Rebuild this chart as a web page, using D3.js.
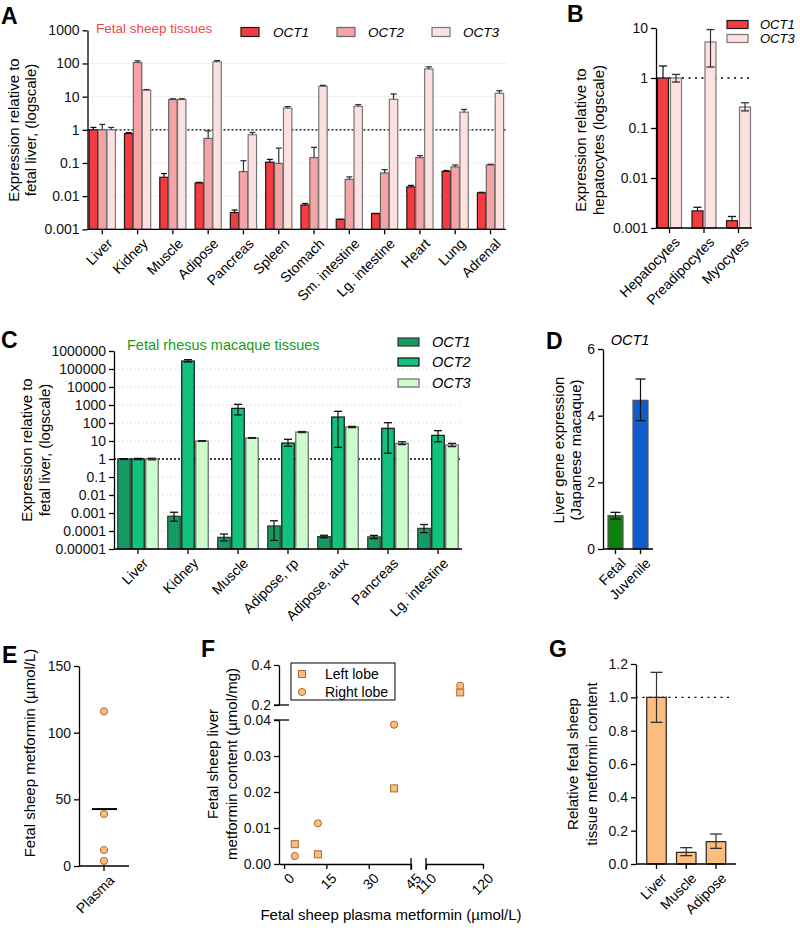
<!DOCTYPE html>
<html>
<head>
<meta charset="utf-8">
<script src="https://cdn.jsdelivr.net/npm/d3@7"></script>
<style>
  body { margin: 0; background: #fff; }
  svg { font-family: "Liberation Sans", Arial, sans-serif; }
</style>
</head>
<body>
<svg id="fig" width="800" height="928"></svg>
<script>
// ---------------- data ----------------
// A: fetal sheep tissues (relative to fetal liver)
var sheepTissues = ["Liver", "Kidney", "Muscle", "Adipose", "Pancreas", "Spleen", "Stomach", "Sm. intestine", "Lg. intestine", "Heart", "Lung", "Adrenal"];
var sheepOct1   = [1, 0.77, 0.037, 0.025, 0.0032, 0.106, 0.0054, 0.002, 0.003, 0.019, 0.056, 0.0126];
var sheepOct1Hi = [1.18, 0.82, 0.048, 0.026, 0.0038, 0.128, 0.006, 0.002, 0.003, 0.021, 0.059, 0.013];
var sheepOct2   = [1, 107, 8.2, 0.55, 0.055, 0.097, 0.145, 0.032, 0.05, 0.145, 0.076, 0.087];
var sheepOct2Hi = [1.45, 120, 8.6, 0.93, 0.117, 0.28, 0.295, 0.038, 0.063, 0.166, 0.087, 0.091];
var sheepOct3   = [1, 15.7, 8.2, 112, 0.71, 4.5, 20.4, 5.1, 8.3, 68, 3.4, 12.6];
var sheepOct3Hi = [1.18, 16.3, 8.6, 122, 0.83, 5.0, 21.9, 5.75, 12, 79, 4.1, 15.1];
var sheepTicks  = [0.001, 0.01, 0.1, 1, 10, 100, 1000];

// B: isolated fetal sheep cells (relative to hepatocytes)
var cellTypes  = ["Hepatocytes", "Preadipocytes", "Myocytes"];
var cellOct1   = [1, 0.0022, 0.0014];
var cellOct1Hi = [1.74, 0.0026, 0.0017];
var cellOct3   = [1, 5.25, 0.263];
var cellOct3Lo = [0.83, 1.66, 0.22];
var cellOct3Hi = [1.18, 9.3, 0.32];
var cellTicks  = [0.001, 0.01, 0.1, 1, 10];

// C: fetal rhesus macaque tissues
var macTissues = ["Liver", "Kidney", "Muscle", "Adipose, rp", "Adipose, aux", "Pancreas", "Lg. intestine"];
var macOct1   = [1, 0.00066, 0.0000445, 0.00019, 0.000049, 0.000047, 0.00014];
var macOct1Lo = [0.95, 0.00035, 0.000028, 0.00003, 0.000042, 0.000038, 0.000081];
var macOct1Hi = [1.05, 0.0011, 0.000068, 0.00037, 0.000058, 0.000057, 0.00023];
var macOct2   = [1, 277000, 650, 7.7, 215, 50.6, 20.6];
var macOct2Lo = [0.92, 245000, 280, 5.1, 4.4, 2.1, 9];
var macOct2Hi = [1.08, 330000, 1090, 12.4, 445, 104, 37.5];
var macOct3   = [1, 10, 14.7, 31.5, 60, 7.4, 6.0];
var macOct3Lo = [0.9, 9.5, 14, 29.5, 55, 6.3, 4.9];
var macOct3Hi = [1.1, 10.5, 15.5, 33.5, 65, 9.1, 7.4];
var macTicks  = [0.00001, 0.0001, 0.001, 0.01, 0.1, 1, 10, 100, 1000, 10000, 100000, 1000000];

// D: Japanese macaque liver OCT1
var ages        = ["Fetal", "Juvenile"];
var liverOct1   = [1.0, 4.46];
var liverOct1Lo = [0.9, 3.85];
var liverOct1Hi = [1.1, 5.1];
var dTicks = [0, 2, 4, 6];

// E: fetal plasma metformin (umol/L), one value per fetus
var plasmaMet = [3.8, 12, 39, 116];
var eTicks = [0, 50, 100, 150];

// F: liver content (umol/mg) for the same fetuses, same order as plasmaMet
var leftLobeY  = [0.0055, 0.0027, 0.021, 0.263];
var rightLobeY = [0.0022, 0.0113, 0.0387, 0.297];
var fLowTicks  = [0, 0.01, 0.02, 0.03, 0.04];
var fHighTicks = [0.2, 0.4];
var fLeftTicks = [0, 15, 30, 45];
var fRightTicks = [110, 120];

// G: relative tissue metformin content
var gTissues = ["Liver", "Muscle", "Adipose"];
var metContent   = [1.0, 0.07, 0.134];
var metContentLo = [0.85, 0.05, 0.094];
var metContentHi = [1.15, 0.098, 0.18];
var gTicks = [0, 0.2, 0.4, 0.6, 0.8, 1.0, 1.2];

// ---------------- helpers ----------------
var svg = d3.select("#fig");
var FONT = "'Liberation Sans', Arial, sans-serif";
var orange = "#FBBE7E";
var orangeEdge = "#A86C30";

function styleAxis(g) {
  g.attr("font-family", FONT).attr("font-size", 14);
  g.select(".domain").attr("stroke", "#000").attr("stroke-width", 1.3);
  g.selectAll(".tick line").attr("stroke", "#000").attr("stroke-width", 1.3);
  g.selectAll(".tick text").attr("fill", "#111");
}

function letter(t, x, y) {
  svg.append("text").attr("x", x).attr("y", y)
    .attr("font-size", 23).attr("font-weight", "bold").text(t);
}

function yTitle(lines, xs, cy) {
  lines.forEach(function(t, i) {
    svg.append("text")
      .attr("transform", "translate(" + xs[i] + "," + cy + ") rotate(-90)")
      .attr("text-anchor", "middle")
      .attr("dy", "0.35em")
      .attr("font-size", 15)
      .text(t);
  });
}

function rotLabels(cats, x, base) {
  svg.append("g").selectAll("text")
    .data(cats)
    .enter().append("text")
    .attr("transform", function(d) { return "translate(" + (x(d) + 4) + "," + (base + 8) + ") rotate(-45)"; })
    .attr("text-anchor", "end")
    .attr("dy", "0.72em")
    .attr("font-size", 14)
    .text(function(d) { return d; });
}

// grouped bar panel with error bars
function barPanel(p) {
  var x = d3.scalePoint().domain(p.cats).range(p.tickRange);
  var y = p.y;
  var base = y.range()[0];
  var n = p.series.length;
  var groupW = n * p.barW + (n - 1) * p.gap;
  var g = svg.append("g");

  // faint grid lines
  (p.grid || []).forEach(function(v) {
    g.append("line")
      .attr("x1", p.axisX[0]).attr("x2", p.axisX[1])
      .attr("y1", y(v)).attr("y2", y(v))
      .attr("stroke", "#e2e2e2").attr("stroke-dasharray", "2,2");
  });

  // dotted reference line (behind the bars)
  if (p.ref != null) {
    g.append("line")
      .attr("x1", p.axisX[0]).attr("x2", p.refEnd || p.axisX[1])
      .attr("y1", y(p.ref)).attr("y2", y(p.ref))
      .attr("stroke", "#000").attr("stroke-width", 1.3)
      .attr("stroke-dasharray", p.refDash || "2,2");
  }

  p.series.forEach(function(s, si) {
    var bx = function(d) { return x(d) - groupW / 2 + si * (p.barW + p.gap); };
    g.append("g").selectAll("rect")
      .data(p.cats)
      .enter().append("rect")
      .attr("x", bx)
      .attr("y", function(d, i) { return y(s.vals[i]); })
      .attr("width", p.barW)
      .attr("height", function(d, i) { return base - y(s.vals[i]); })
      .attr("fill", function(d, i) { return typeof s.fill === "string" ? s.fill : s.fill[i]; })
      .attr("stroke", s.stroke)
      .attr("stroke-width", 1.2);

    // error bars
    p.cats.forEach(function(d, i) {
      var cx = bx(d) + p.barW / 2;
      var top = y(s.hi[i]);
      var bot = s.lo ? y(s.lo[i]) : y(s.vals[i]);
      var ec = s.err || "#222";
      g.append("line").attr("x1", cx).attr("x2", cx).attr("y1", top).attr("y2", bot)
        .attr("stroke", ec).attr("stroke-width", 1.2);
      g.append("line").attr("x1", cx - p.cap / 2).attr("x2", cx + p.cap / 2).attr("y1", top).attr("y2", top)
        .attr("stroke", ec).attr("stroke-width", 1.3);
      if (s.lo) {
        g.append("line").attr("x1", cx - p.cap / 2).attr("x2", cx + p.cap / 2).attr("y1", bot).attr("y2", bot)
          .attr("stroke", ec).attr("stroke-width", 1.3);
      }
    });
  });

  // y axis
  var ya = g.append("g")
    .attr("transform", "translate(" + p.axisX[0] + ",0)")
    .call(d3.axisLeft(y).tickValues(p.yTicks).tickFormat(p.yFmt).tickSize(5).tickSizeOuter(0).tickPadding(3));
  styleAxis(ya);

  // x axis line and ticks
  g.append("line")
    .attr("x1", p.axisX[0]).attr("x2", p.axisX[1])
    .attr("y1", base).attr("y2", base)
    .attr("stroke", "#000").attr("stroke-width", 1.3);
  g.append("g").selectAll("line")
    .data(p.cats)
    .enter().append("line")
    .attr("x1", function(d) { return x(d); }).attr("x2", function(d) { return x(d); })
    .attr("y1", base).attr("y2", base + 5)
    .attr("stroke", "#000").attr("stroke-width", 1.3);

  rotLabels(p.cats, x, base);
}

function legendRows(items, xs, ys, textXs, w, h, fs) {
  items.forEach(function(it, i) {
    svg.append("rect")
      .attr("x", xs[i]).attr("y", ys[i] - h / 2)
      .attr("width", w).attr("height", h)
      .attr("fill", it.fill).attr("stroke", it.stroke).attr("stroke-width", 1.2);
    svg.append("text")
      .attr("x", textXs[i]).attr("y", ys[i])
      .attr("dy", "0.35em").attr("font-size", fs).attr("font-style", "italic")
      .text(it.name);
  });
}

var logFmt = function(d) { return String(d); };

// ---------------- panel A ----------------
letter("A", 1, 24);
barPanel({
  cats: sheepTissues,
  y: d3.scaleLog().domain([0.001, 1000]).range([229.3, 30.3]),
  yTicks: sheepTicks, yFmt: logFmt,
  tickRange: [102.3, 490.5], axisX: [87.5, 506],
  barW: 8.4, gap: 0.5, cap: 6, ref: 1, refDash: "2,2",
  grid: [0.01, 0.1, 10, 100],
  series: [
    { vals: sheepOct1, hi: sheepOct1Hi, fill: "#F33B40", stroke: "#1a1a1a", err: "#111" },
    { vals: sheepOct2, hi: sheepOct2Hi, fill: "#F5A3A4", stroke: "#666", err: "#333" },
    { vals: sheepOct3, hi: sheepOct3Hi, fill: "#FDE0E0", stroke: "#777", err: "#333" }
  ]
});
yTitle(["Expression relative to", "fetal liver, (logscale)"], [14, 31], 130);
svg.append("text").attr("x", 96).attr("y", 28).attr("dy", "0.35em")
  .attr("font-size", 13.5).attr("fill", "#F2474F").text("Fetal sheep tissues");
legendRows([
  { name: "OCT1", fill: "#F33B40", stroke: "#1a1a1a" },
  { name: "OCT2", fill: "#F5A3A4", stroke: "#666" },
  { name: "OCT3", fill: "#FDE0E0", stroke: "#777" }
], [241, 337, 432], [32, 32, 32], [273, 368, 463], 18, 9, 13.5);

// ---------------- panel B ----------------
letter("B", 567, 22);
barPanel({
  cats: cellTypes,
  y: d3.scaleLog().domain([0.001, 10]).range([228, 28]),
  yTicks: cellTicks, yFmt: logFmt,
  tickRange: [669.5, 738.5], axisX: [656, 752],
  barW: 11, gap: 2, cap: 8, ref: 1, refDash: "2,4.5", refEnd: 750,
  series: [
    { vals: cellOct1, hi: cellOct1Hi, fill: "#F33B40", stroke: "#1a1a1a", err: "#111" },
    { vals: cellOct3, hi: cellOct3Hi, lo: cellOct3Lo, fill: "#FDE0E0", stroke: "#777", err: "#333" }
  ]
});
yTitle(["Expression relative to", "hepatocytes (logscale)"], [581, 599], 140);
legendRows([
  { name: "OCT1", fill: "#F33B40", stroke: "#1a1a1a" },
  { name: "OCT3", fill: "#FDE0E0", stroke: "#777" }
], [727, 727], [24.5, 38.5], [760, 760], 21, 8, 13);

// ---------------- panel C ----------------
letter("C", 1, 348);
barPanel({
  cats: macTissues,
  y: d3.scaleLog().domain([0.00001, 1000000]).range([549, 351]),
  yTicks: macTicks, yFmt: logFmt,
  tickRange: [138, 438], axisX: [114, 462],
  barW: 12.5, gap: 1.5, cap: 8, ref: 1, refDash: "2,2",
  grid: [0.0001, 0.001, 0.01, 0.1, 10, 100, 1000, 10000, 100000],
  series: [
    { vals: macOct1, hi: macOct1Hi, lo: macOct1Lo, fill: "#139B62", stroke: "#333", err: "#111" },
    { vals: macOct2, hi: macOct2Hi, lo: macOct2Lo, fill: "#12C27C", stroke: "#111", err: "#111" },
    { vals: macOct3, hi: macOct3Hi, lo: macOct3Lo, fill: "#CCFCCC", stroke: "#666", err: "#222" }
  ]
});
yTitle(["Expression relative to", "fetal liver, (logscale)"], [27, 45], 450);
svg.append("text").attr("x", 127).attr("y", 345).attr("dy", "0.35em")
  .attr("font-size", 14.5).attr("fill", "#169C16").text("Fetal rhesus macaque tissues");
legendRows([
  { name: "OCT1", fill: "#139B62", stroke: "#333" },
  { name: "OCT2", fill: "#12C27C", stroke: "#111" },
  { name: "OCT3", fill: "#CCFCCC", stroke: "#666" }
], [398, 398, 398], [342, 362, 383], [432, 432, 432], 21, 8, 14.5);

// ---------------- panel D ----------------
letter("D", 546, 349);
barPanel({
  cats: ages,
  y: d3.scaleLinear().domain([0, 6]).range([549, 349]),
  yTicks: dTicks, yFmt: d3.format("d"),
  tickRange: [615.5, 640.5], axisX: [603, 653],
  barW: 15, gap: 0, cap: 10,
  series: [
    { vals: liverOct1, hi: liverOct1Hi, lo: liverOct1Lo, fill: ["#0B800B", "#0F5DCC"], stroke: "#555", err: "#111" }
  ]
});
yTitle(["Liver gene expression", "(Japanese macaque)"], [559, 576], 450);
svg.append("text").attr("x", 630).attr("y", 340).attr("dy", "0.35em")
  .attr("text-anchor", "middle").attr("font-size", 14.5).attr("font-style", "italic").text("OCT1");

// ---------------- panel E ----------------
letter("E", 2, 663);
var ey = d3.scaleLinear().domain([0, 150]).range([866, 666]);
var eAxis = svg.append("g").attr("transform", "translate(79,0)")
  .call(d3.axisLeft(ey).tickValues(eTicks).tickSize(5).tickSizeOuter(0).tickPadding(3));
styleAxis(eAxis);
svg.append("line").attr("x1", 79).attr("x2", 129).attr("y1", 866).attr("y2", 866)
  .attr("stroke", "#000").attr("stroke-width", 1.3);
svg.append("line").attr("x1", 104).attr("x2", 104).attr("y1", 866).attr("y2", 871)
  .attr("stroke", "#000").attr("stroke-width", 1.3);
svg.append("g").selectAll("circle")
  .data(plasmaMet)
  .enter().append("circle")
  .attr("cx", 104).attr("cy", function(d) { return ey(d); }).attr("r", 3.6)
  .attr("fill", orange).attr("stroke", orangeEdge).attr("stroke-width", 1);
svg.append("line")
  .attr("x1", 92).attr("x2", 117)
  .attr("y1", ey(d3.mean(plasmaMet))).attr("y2", ey(d3.mean(plasmaMet)))
  .attr("stroke", "#000").attr("stroke-width", 2);
rotLabels(["Plasma"], function() { return 104; }, 866);
yTitle(["Fetal sheep metformin (µmol/L)"], [30], 753);

// ---------------- panel F ----------------
letter("F", 201, 657);
var fxL = d3.scaleLinear().domain([-1.8, 45]).range([279, 411]);
var fxR = d3.scaleLinear().domain([110, 120]).range([426, 483]);
var fyL = d3.scaleLinear().domain([0, 0.04]).range([864, 720]);
var fyH = d3.scaleLinear().domain([0.2, 0.4]).range([705, 665]);
function fx(v) { return v > 80 ? fxR(v) : fxL(v); }
function fy(v) { return v > 0.1 ? fyH(v) : fyL(v); }

var fyAxisL = svg.append("g").attr("transform", "translate(279,0)")
  .call(d3.axisLeft(fyL).tickValues(fLowTicks).tickFormat(d3.format(".2f")).tickSize(5).tickSizeOuter(0).tickPadding(3));
styleAxis(fyAxisL);
var fyAxisH = svg.append("g").attr("transform", "translate(279,0)")
  .call(d3.axisLeft(fyH).tickValues(fHighTicks).tickFormat(d3.format(".1f")).tickSize(5).tickSizeOuter(0).tickPadding(3));
styleAxis(fyAxisH);
var fxAxisL = svg.append("g").attr("transform", "translate(0,864)")
  .call(d3.axisBottom(fxL).tickValues(fLeftTicks).tickFormat("").tickSize(5).tickSizeOuter(0));
styleAxis(fxAxisL);
var fxAxisR = svg.append("g").attr("transform", "translate(0,864)")
  .call(d3.axisBottom(fxR).tickValues(fRightTicks).tickFormat("").tickSize(5).tickSizeOuter(0));
styleAxis(fxAxisR);

// axis break marks
[720, 705].forEach(function(v) {
  svg.append("line").attr("x1", 274).attr("x2", 289).attr("y1", v).attr("y2", v)
    .attr("stroke", "#000").attr("stroke-width", 1.3);
});
[411, 426].forEach(function(v) {
  svg.append("line").attr("x1", v).attr("x2", v).attr("y1", 858).attr("y2", 870)
    .attr("stroke", "#000").attr("stroke-width", 1.3);
});

// rotated x tick labels
svg.append("g").selectAll("text")
  .data(fLeftTicks.concat(fRightTicks))
  .enter().append("text")
  .attr("transform", function(d) { return "translate(" + (fx(d) + 4) + "," + 872 + ") rotate(-45)"; })
  .attr("text-anchor", "end").attr("dy", "0.72em").attr("font-size", 14)
  .text(function(d) { return d; });

// points: x is the plasma value of the same fetus
svg.append("g").selectAll("rect")
  .data(leftLobeY)
  .enter().append("rect")
  .attr("x", function(d, i) { return fx(plasmaMet[i]) - 3.5; })
  .attr("y", function(d) { return fy(d) - 3.5; })
  .attr("width", 7).attr("height", 7)
  .attr("fill", orange).attr("stroke", orangeEdge).attr("stroke-width", 1);
svg.append("g").selectAll("circle")
  .data(rightLobeY)
  .enter().append("circle")
  .attr("cx", function(d, i) { return fx(plasmaMet[i]); })
  .attr("cy", function(d) { return fy(d); })
  .attr("r", 3.6)
  .attr("fill", orange).attr("stroke", orangeEdge).attr("stroke-width", 1);

// legend box
svg.append("rect").attr("x", 291).attr("y", 663).attr("width", 104).attr("height", 37)
  .attr("fill", "#fff").attr("stroke", "#000").attr("stroke-width", 1);
svg.append("rect").attr("x", 298.5).attr("y", 670.5).attr("width", 7).attr("height", 7)
  .attr("fill", orange).attr("stroke", orangeEdge);
svg.append("circle").attr("cx", 302).attr("cy", 692).attr("r", 3.6)
  .attr("fill", orange).attr("stroke", orangeEdge);
svg.append("text").attr("x", 325).attr("y", 674).attr("dy", "0.35em").attr("font-size", 14).text("Left lobe");
svg.append("text").attr("x", 325).attr("y", 692).attr("dy", "0.35em").attr("font-size", 14).text("Right lobe");

yTitle(["Fetal sheep liver", "metformin content (µmol/mg)"], [213, 232], 764);
svg.append("text").attr("x", 391).attr("y", 915).attr("dy", "0.35em")
  .attr("text-anchor", "middle").attr("font-size", 15).text("Fetal sheep plasma metformin (µmol/L)");

// ---------------- panel G ----------------
letter("G", 549, 657);
barPanel({
  cats: gTissues,
  y: d3.scaleLinear().domain([0, 1.2]).range([864, 664]),
  yTicks: gTicks, yFmt: d3.format(".1f"),
  tickRange: [656.5, 716], axisX: [636, 736],
  barW: 19.5, gap: 0, cap: 12, ref: 1, refDash: "2,4.5", refEnd: 733,
  series: [
    { vals: metContent, hi: metContentHi, lo: metContentLo, fill: orange, stroke: "#222", err: "#333" }
  ]
});
yTitle(["Relative fetal sheep", "tissue metformin content"], [573, 592], 764);
</script>
</body>
</html>
